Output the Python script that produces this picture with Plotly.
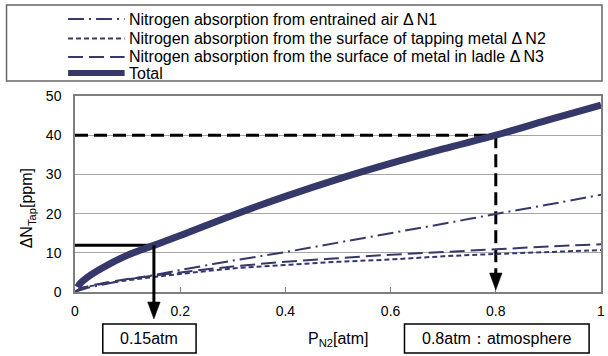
import plotly.graph_objects as go

# ---- data ----
p_comp = [0, 0.01, 0.02, 0.05, 0.1, 0.15, 0.2, 0.3, 0.4, 0.5, 0.6, 0.7, 0.8, 0.9, 1.0]
dN1 = [0, 0.5, 0.9, 1.8, 3.2, 4.3, 5.6, 8.0, 10.2, 12.6, 15.0, 17.4, 19.9, 22.3, 24.8]
dN2 = [0, 0.8, 1.2, 2.0, 3.0, 3.8, 4.6, 6.0, 6.9, 7.7, 8.3, 9.1, 9.7, 10.2, 10.7]
dN3 = [0, 0.9, 1.3, 2.2, 3.3, 4.2, 5.0, 6.5, 7.7, 8.6, 9.5, 10.2, 10.9, 11.6, 12.2]
p_total = [0.005, 0.01, 0.02, 0.05, 0.1, 0.15, 0.2, 0.3, 0.4, 0.5, 0.6, 0.7, 0.8, 0.9, 1.0]
total = [1.2, 2.2, 3.4, 6.0, 9.4, 11.9, 14.4, 19.6, 24.4, 28.8, 32.8, 36.5, 40.0, 43.9, 47.7]

legend_names = [
    "Nitrogen absorption from entrained air \u0394\u2009N1",
    "Nitrogen absorption from the surface of tapping metal \u0394\u2009N2",
    "Nitrogen absorption from the surface of metal in ladle \u0394\u2009N3",
    "Total",
]
x_ticks = [0, 0.2, 0.4, 0.6, 0.8, 1]
x_tick_text = ["0", "0.2", "0.4", "0.6", "0.8", "1"]
y_ticks = [0, 10, 20, 30, 40, 50]

p_low, n_low = 0.15, 11.9      # 0.15 atm marker
p_atm, n_atm = 0.8, 40.0       # atmosphere marker
box_labels = ["0.15atm", "0.8atm\uff1aatmosphere"]

# ---- geometry ----
W, H = 608, 356
L, R, T, B = 75, 3, 96, 64
PW, PH = W - L - R, H - T - B
Y_MAX = 50
NAVY = "#363869"
FONT = "Liberation Sans"

def px(xp):
    return (xp - L) / PW

def py(yp):
    return (H - B - yp) / PH

fig = go.Figure()
styles = [
    dict(width=2, dash="16px,5px,2px,5px"),
    dict(width=2, dash="5px,3px"),
    dict(width=2, dash="15px,6px"),
]
for ys, st, nm in zip([dN1, dN2, dN3], styles, legend_names[:3]):
    fig.add_trace(go.Scatter(x=p_comp, y=ys, mode="lines", name=nm,
                             line=dict(color=NAVY, shape="spline", **st),
                             showlegend=False, hoverinfo="skip"))
fig.add_trace(go.Scatter(x=p_total, y=total, mode="lines", name=legend_names[3],
                         line=dict(color=NAVY, width=7, shape="spline"),
                         showlegend=False, hoverinfo="skip"))

shapes = []
# solid black guide at 0.15 atm
shapes.append(dict(type="line", xref="x", yref="y", x0=0, x1=p_low, y0=n_low, y1=n_low,
                   line=dict(color="black", width=3), layer="between"))
shapes.append(dict(type="line", xref="x", yref="paper", x0=p_low, x1=p_low,
                   y0=n_low / Y_MAX, y1=py(305), line=dict(color="black", width=3)))
# dashed black guide at 0.8 atm
shapes.append(dict(type="line", xref="x", yref="y", x0=0, x1=p_atm, y0=n_atm, y1=n_atm,
                   line=dict(color="black", width=3, dash="13px,6px"), layer="between"))
shapes.append(dict(type="line", xref="x", yref="y", x0=p_atm, x1=p_atm, y0=n_atm, y1=4,
                   line=dict(color="black", width=3, dash="13px,6px"), layer="between"))

def head(xd, tip_py, length=17, half=6.3):
    xc = L + xd * PW
    return dict(type="path", xref="paper", yref="paper",
                path=(f"M {px(xc-half)},{py(tip_py-length)} L {px(xc+half)},{py(tip_py-length)} "
                      f"L {px(xc)},{py(tip_py)} Z"),
                fillcolor="black", line=dict(color="black", width=0.5))

shapes.append(head(p_low, 319))
shapes.append(head(p_atm, 290))

# label boxes
shapes.append(dict(type="rect", xref="paper", yref="paper", x0=px(103), x1=px(197),
                   y0=py(353), y1=py(324), line=dict(color="black", width=1.5)))
shapes.append(dict(type="rect", xref="paper", yref="paper", x0=px(407), x1=px(593),
                   y0=py(353), y1=py(324), line=dict(color="black", width=1.5)))

# legend box
shapes.append(dict(type="rect", xref="paper", yref="paper", x0=px(6), x1=px(606),
                   y0=py(81), y1=py(5), line=dict(color="#666666", width=1.5)))
rows = [19, 38.5, 57, 73]
for i, (r, st) in enumerate(zip(rows, styles + [dict(width=6, dash="solid")])):
    shapes.append(dict(type="line", xref="paper", yref="paper", x0=px(68), x1=px(125),
                       y0=py(r), y1=py(r), line=dict(color=NAVY, **st)))

annotations = []
for r, nm in zip(rows, legend_names):
    annotations.append(dict(xref="paper", yref="paper", x=px(127), y=py(r), text=nm,
                            showarrow=False, xanchor="left", yanchor="middle",
                            font=dict(family=FONT, size=16, color="black")))
annotations.append(dict(xref="paper", yref="paper", x=px(150), y=py(338.5), text=box_labels[0],
                        showarrow=False, xanchor="center", yanchor="middle",
                        font=dict(family=FONT, size=16, color="black")))
annotations.append(dict(xref="paper", yref="paper", x=px(500), y=py(338.5), text=box_labels[1],
                        showarrow=False, xanchor="center", yanchor="middle",
                        font=dict(family=FONT, size=16, color="black")))
annotations.append(dict(xref="paper", yref="paper", x=px(340), y=py(339),
                        text="P<sub>N2</sub>[atm]", showarrow=False,
                        xanchor="center", yanchor="middle",
                        font=dict(family=FONT, size=16, color="black")))
annotations.append(dict(xref="paper", yref="paper", x=px(27), y=py(208),
                        text="\u0394N<sub>Tap</sub>[ppm]", showarrow=False, textangle=-90,
                        xanchor="center", yanchor="middle",
                        font=dict(family=FONT, size=16, color="black")))

fig.update_layout(
    width=W, height=H,
    margin=dict(l=L, r=R, t=T, b=B),
    paper_bgcolor="white", plot_bgcolor="white",
    font=dict(family=FONT, size=14, color="black"),
    shapes=shapes, annotations=annotations,
    xaxis=dict(range=[0, 1], tickvals=x_ticks, ticktext=x_tick_text,
               showgrid=False, zeroline=False, showline=True, linecolor="#7f7f7f",
               linewidth=1.5, mirror=True, ticks="inside", ticklen=5, tickcolor="#7f7f7f",
               ticklabelstandoff=5),
    yaxis=dict(range=[0, Y_MAX], tickvals=y_ticks, showgrid=True, gridcolor="#a6a6a6",
               gridwidth=1, zeroline=False, showline=True, linecolor="#7f7f7f",
               linewidth=1.5, mirror=True, ticks="", ticklabelstandoff=9),
)

fig.write_html("out.html", config={"displayModeBar": False},
               post_script="document.body.style.margin='0';")
